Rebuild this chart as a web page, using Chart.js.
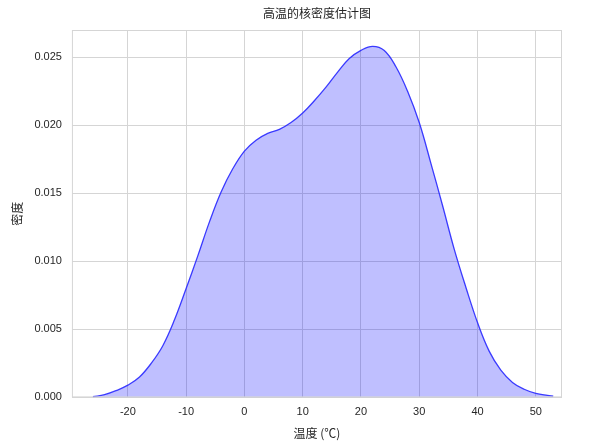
<!DOCTYPE html>
<html>
<head>
<meta charset="utf-8">
<script src="https://cdn.jsdelivr.net/npm/chart.js@4"></script>
<style>
  body { margin: 0; background: #fff; }
  #box { width: 609px; height: 442px; }
</style>
</head>
<body>
<div id="box"><canvas id="kde"></canvas></div>
<script>
// 数据
const temps = [-26, -24, -22, -20, -18, -16, -14, -12, -10, -8, -6, -4, -2, 0, 2, 4, 6, 8, 10, 12, 14, 16, 18, 20, 22, 24, 26, 28, 30, 32, 34, 36, 38, 40, 42, 44, 46, 48, 50, 52, 53];
const density = [0.00005, 0.0002, 0.0005, 0.0009, 0.0015, 0.0025, 0.0038, 0.0057, 0.0080, 0.0104, 0.0129, 0.0151, 0.0168, 0.0181, 0.0189, 0.0194, 0.0197, 0.0202, 0.0209, 0.0218, 0.0228, 0.0239, 0.0249, 0.0255, 0.0258, 0.0255, 0.0243, 0.0225, 0.0202, 0.0172, 0.0141, 0.0109, 0.0081, 0.0055, 0.0034, 0.0020, 0.0011, 0.0006, 0.0003, 0.00015, 0.0001];
const xTicks = [-20, -10, 0, 10, 20, 30, 40, 50];
const yTicks = [0, 0.005, 0.010, 0.015, 0.020, 0.025];

const fonte = "'Liberation Sans', 'Noto Sans CJK SC', sans-serif";
const corTexto = '#262626';
const corGrade = '#d5d5d5';

// moldura em volta da área do gráfico + título centrado nela
const moldura = {
    id: 'moldura',
    afterDraw(chart) {
        const a = chart.chartArea;
        const ctx = chart.ctx;
        ctx.save();
        ctx.strokeStyle = corGrade;
        ctx.lineWidth = 1;
        ctx.strokeRect(a.left + 0.5, a.top + 0.5, a.right - a.left - 1, a.bottom - a.top - 1);
        ctx.fillStyle = corTexto;
        ctx.font = "12px 'Noto Sans CJK SC', sans-serif";
        ctx.textAlign = 'center';
        ctx.textBaseline = 'middle';
        ctx.fillText('高温的核密度估计图', (a.left + a.right) / 2, 13);
        ctx.restore();
    }
};

new Chart(document.getElementById('kde'), {
    type: 'line',
    data: {
        datasets: [{
            label: '高温',
            data: temps.map((t, i) => ({ x: t, y: density[i] })),
            borderColor: 'rgba(40, 40, 255, 0.9)',
            backgroundColor: 'rgba(0, 0, 255, 0.25)',
            borderWidth: 1.3,
            fill: 'origin',
            tension: 0.4,
            pointRadius: 0
        }]
    },
    options: {
        responsive: true,
        maintainAspectRatio: false,
        animation: false,
        layout: { padding: { top: 30, right: 47, left: 10, bottom: 1 } },
        plugins: {
            legend: { display: false },
            tooltip: { enabled: false }
        },
        scales: {
            x: {
                type: 'linear',
                min: -29.6,
                max: 54.5,
                afterBuildTicks: axis => { axis.ticks = xTicks.map(v => ({ value: v })); },
                grid: { color: corGrade, drawTicks: false },
                border: { display: false },
                ticks: {
                    color: corTexto,
                    font: { family: fonte, size: 11 },
                    padding: 8,
                    maxRotation: 0,
                    callback: v => String(v)
                },
                title: {
                    display: true,
                    text: '温度 (℃)',
                    color: corTexto,
                    font: { family: "'Noto Sans CJK SC', sans-serif", size: 12 },
                    padding: { top: 0, bottom: 0 }
                }
            },
            y: {
                min: 0,
                max: 0.027,
                afterBuildTicks: axis => { axis.ticks = yTicks.map(v => ({ value: v })); },
                grid: { color: corGrade, drawTicks: false },
                border: { display: false },
                ticks: {
                    color: corTexto,
                    font: { family: fonte, size: 11 },
                    padding: 10,
                    callback: v => v.toFixed(3)
                },
                title: {
                    display: true,
                    text: '密度',
                    color: corTexto,
                    font: { family: "'Noto Sans CJK SC', sans-serif", size: 12 },
                    padding: { top: 0, bottom: 0 }
                }
            }
        }
    },
    plugins: [moldura]
});
</script>
</body>
</html>
